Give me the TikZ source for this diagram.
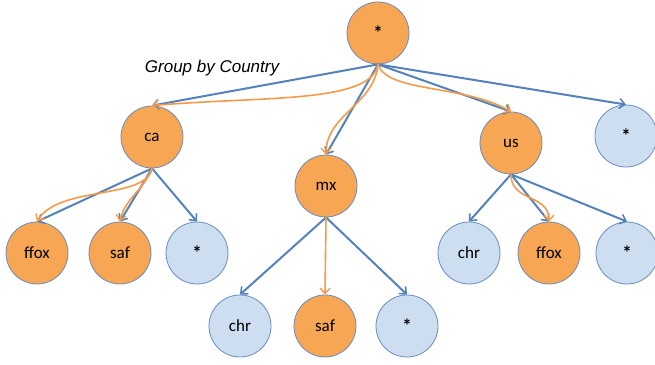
\documentclass[tikz,border=0pt]{standalone}
\usepackage{fontspec}
\setmainfont{Carlito}
\newfontfamily\capfont{Liberation Sans}
\usetikzlibrary{arrows.meta}

\definecolor{nodeorange}{RGB}{247,166,84}
\definecolor{nodeblue}{RGB}{205,222,241}
\definecolor{rim}{RGB}{105,140,188}
\definecolor{linkblue}{RGB}{84,130,188}
\definecolor{pathorange}{RGB}{244,155,74}

% the "all" value of a dimension
\newcommand{\allval}{\raisebox{-2.5pt}{\fontsize{19}{20}\selectfont\bfseries *}}

\begin{document}
\begin{tikzpicture}[x=1pt,y=1pt,
  vert/.style={circle, draw=rim, line width=0.8pt, minimum size=62pt,
    inner sep=0pt, font=\fontsize{17}{20}\selectfont},
  hit/.style={vert, fill=nodeorange},
  miss/.style={vert, fill=nodeblue},
  link/.style={draw=linkblue, line width=2pt,
    -{Straight Barb[length=5.5pt,width=10pt,line width=1.6pt]}},
  route/.style={draw=pathorange, line width=1.6pt,
    -{Straight Barb[length=5.5pt,width=10pt,line width=1.4pt]}}]

\useasboundingbox (0,0) rectangle (655,364);

% cube lattice nodes
\node[hit]  (root)   at (378,331) {\allval};
\node[hit]  (ca)     at (152,227) {ca};
\node[hit]  (mx)     at (326,178) {mx};
\node[hit]  (us)     at (511,221) {us};
\node[miss] (rstar)  at (626,228) {\allval};

\node[hit]  (caff)   at (37,111)  {ffox};
\node[hit]  (casaf)  at (120,111) {saf};
\node[miss] (castar) at (197,111) {\allval};

\node[miss] (mxchr)  at (240,38)  {chr};
\node[hit]  (mxsaf)  at (325,38)  {saf};
\node[miss] (mxstar) at (407,38)  {\allval};

\node[miss] (uschr)  at (469,111) {chr};
\node[hit]  (usff)   at (549,111) {ffox};
\node[miss] (usstar) at (627,111) {\allval};

\node[font=\capfont\itshape\fontsize{17}{20}\selectfont] (cap) at (212,296) {Group by Country};

% lattice edges
\draw[link] (root.south) -- (ca.north);
\draw[link] (root.south) -- (mx.north);
\draw[link] (root.south) -- (us.north);
\draw[link] (root.south) -- (rstar.north);

\draw[link] (ca.south) -- (caff.north);
\draw[link] (ca.south) -- (casaf.north);
\draw[link] (ca.south) -- (castar.north);

\draw[link] (mx.south) -- (mxchr.north);
\draw[link] (mx.south) -- (mxstar.north);

\draw[link] (us.south) -- (uschr.north);
\draw[link] (us.south) -- (usff.north);
\draw[link] (us.south) -- (usstar.north);

% traversal path
\draw[route] (root.south) .. controls +(-100:40) and +(5:110) .. (ca.north);
\draw[route] (root.south) .. controls +(-95:40) and +(90:40) .. (mx.north);
\draw[route] (root.south) .. controls +(-72:30) and +(150:55) .. (us.north);

\draw[route] (ca.south) .. controls +(-100:32) and +(60:42) .. (caff.north);
\draw[route] (ca.south) .. controls +(-110:22) and +(80:22) .. (casaf.north);

\draw[route] (mx.south) -- (mxsaf.north);

\draw[route] (us.south) .. controls +(-90:28) and +(90:28) .. (usff.north);
\end{tikzpicture}
\end{document}
